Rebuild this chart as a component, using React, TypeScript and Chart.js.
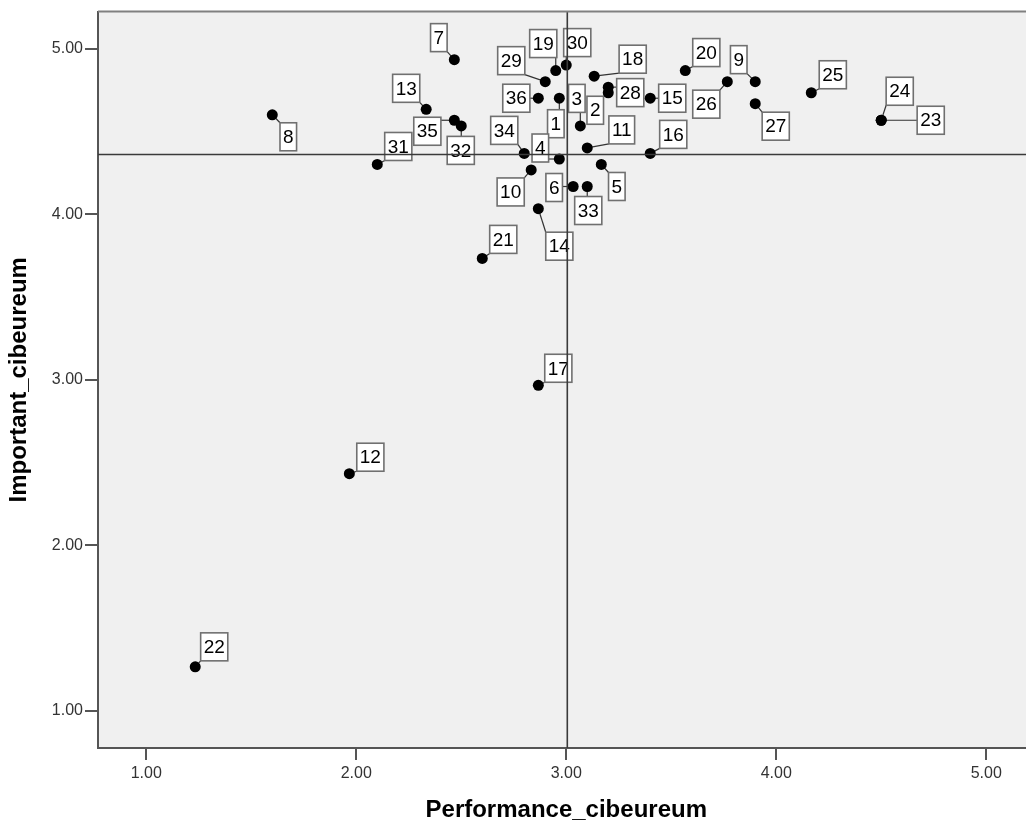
import React, { useEffect, useRef } from "react";
import { Chart, registerables } from "chart.js";

Chart.register(...registerables);

// Case numbers
const caseLabels: string[] = [
  "1", "2", "3", "4", "5", "6", "7", "8", "9", "10", "11", "12",
  "13", "14", "15", "16", "17", "18", "19", "20", "21", "22", "23", "24",
  "25", "26", "27", "28", "29", "30", "31", "32", "33", "34", "35", "36",
];

// Performance_cibeureum (x)
const performance: number[] = [
  2.967, 3.2, 3.067, 2.967, 3.167, 3.033, 2.467, 1.6, 3.9, 2.833, 3.1, 1.967,
  2.333, 2.867, 3.4, 3.4, 2.867, 3.133, 2.95, 3.567, 2.6, 1.233, 4.5, 4.5,
  4.167, 3.767, 3.9, 3.2, 2.9, 3.0, 2.1, 2.5, 3.1, 2.8, 2.467, 2.867,
];

// Important_cibeureum (y)
const importance: number[] = [
  4.7, 4.733, 4.533, 4.333, 4.3, 4.167, 4.933, 4.6, 4.8, 4.267, 4.4, 2.433,
  4.633, 4.033, 4.7, 4.367, 2.967, 4.833, 4.867, 4.867, 3.733, 1.267, 4.567, 4.567,
  4.733, 4.8, 4.667, 4.767, 4.8, 4.9, 4.3, 4.533, 4.167, 4.367, 4.567, 4.7,
];

// Reference lines (means)
const refPerformance = 3.005;
const refImportance = 4.36;

const xTickValues: number[] = [1, 2, 3, 4, 5];
const yTickValues: number[] = [1, 2, 3, 4, 5];

const xTitle = "Performance_cibeureum";
const yTitle = "Important_cibeureum";

// label box placement (pixel offset of box centre from its point)
const labelOffsets: [number, number][] = [
  [-3.5, 25.5], [-13, 17.5], [-3.5, -27.5], [-19, -11], [15.5, 22], [-19, 1],
  [-15.5, -22], [16, 22], [-16.5, -22], [-20.5, 22], [34.5, -18], [21, -16.5],
  [-20, -21], [21, 37.5], [22, 0], [23, -19], [20, -17], [38.5, -17],
  [-12.5, -27], [21, -18], [21, -19], [19, -20], [49.5, 0], [18.5, -29],
  [21.5, -18], [-21, 22.5], [20.5, 22.5], [22, 5.5], [-34, -21], [11, -22.5],
  [21, -18], [-0.5, 24.5], [1, 24], [-20, -23], [-27, 11], [-22, 0],
];

const FONT = '"Liberation Sans", Arial, sans-serif';

const spssPlugin = {
  id: "spssDecor",
  beforeDraw(chart: any) {
    const { ctx, chartArea: a } = chart;
    ctx.save();
    ctx.fillStyle = "#F0F0F0";
    ctx.fillRect(a.left, a.top, a.right - a.left, a.bottom - a.top);
    ctx.restore();
  },
  beforeDatasetsDraw(chart: any) {
    const { ctx } = chart;
    const xs = chart.scales.x;
    const ys = chart.scales.y;
    ctx.save();
    ctx.font = `19px ${FONT}`;
    const boxes = caseLabels.map((lab, i) => {
      const px = xs.getPixelForValue(performance[i]);
      const py = ys.getPixelForValue(importance[i]);
      const cx = px + labelOffsets[i][0];
      const cy = py + labelOffsets[i][1];
      const w = ctx.measureText(lab).width + 6;
      const h = 28;
      return { lab, px, py, l: cx - w / 2, t: cy - h / 2, w, h, cx, cy };
    });
    // leaders
    ctx.strokeStyle = "#333";
    ctx.lineWidth = 1.2;
    boxes.forEach((b) => {
      const nx = Math.max(b.l, Math.min(b.px, b.l + b.w));
      const ny = Math.max(b.t, Math.min(b.py, b.t + b.h));
      const d = Math.hypot(nx - b.px, ny - b.py);
      if (d > 6) {
        ctx.beginPath();
        ctx.moveTo(b.px, b.py);
        ctx.lineTo(nx, ny);
        ctx.stroke();
      }
    });
    // boxes
    boxes.forEach((b) => {
      ctx.fillStyle = "#FFFFFF";
      ctx.fillRect(b.l, b.t, b.w, b.h);
      ctx.strokeStyle = "#707070";
      ctx.lineWidth = 1.6;
      ctx.strokeRect(b.l, b.t, b.w, b.h);
      ctx.fillStyle = "#000";
      ctx.textAlign = "center";
      ctx.textBaseline = "middle";
      ctx.fillText(b.lab, b.cx, b.cy + 1);
    });
    ctx.restore();
  },
  afterDatasetsDraw(chart: any) {
    const { ctx, chartArea: a } = chart;
    const xs = chart.scales.x;
    const ys = chart.scales.y;
    ctx.save();
    ctx.strokeStyle = "#3a3a3a";
    ctx.lineWidth = 1.6;
    const vx = xs.getPixelForValue(refPerformance);
    const hy = ys.getPixelForValue(refImportance);
    ctx.beginPath();
    ctx.moveTo(vx, a.top);
    ctx.lineTo(vx, a.bottom);
    ctx.moveTo(a.left, hy);
    ctx.lineTo(a.right, hy);
    ctx.stroke();
    // top frame
    ctx.strokeStyle = "#808080";
    ctx.lineWidth = 2;
    ctx.beginPath();
    ctx.moveTo(a.left, a.top);
    ctx.lineTo(a.right, a.top);
    ctx.stroke();
    ctx.restore();
  },
};

export default function App() {
  const canvasRef = useRef<HTMLCanvasElement | null>(null);

  useEffect(() => {
    if (!canvasRef.current) return;
    const chart = new Chart(canvasRef.current, {
      type: "scatter",
      data: {
        datasets: [
          {
            label: "cases",
            data: performance.map((x, i) => ({ x, y: importance[i] })),
            backgroundColor: "#000000",
            borderWidth: 0,
            pointRadius: 5.5,
            pointHoverRadius: 5.5,
          },
        ],
      },
      options: {
        animation: false,
        responsive: false,
        devicePixelRatio: 1,
        layout: { padding: { top: 10, right: 3, left: 0, bottom: 0 } },
        plugins: {
          legend: { display: false },
          tooltip: { enabled: false },
        },
        scales: {
          x: {
            type: "linear",
            min: 0.77,
            max: 5.23,
            afterBuildTicks: (s: any) => {
              s.ticks = xTickValues.map((v) => ({ value: v }));
            },
            afterFit: (s: any) => {
              s.height = 80;
            },
            ticks: {
              callback: (v: any) => Number(v).toFixed(2),
              font: { family: FONT, size: 16 },
              color: "#333",
              padding: 4,
              maxRotation: 0,
            },
            grid: {
              drawOnChartArea: false,
              drawTicks: true,
              tickLength: 12,
              color: "#555",
              lineWidth: 2,
            },
            border: { display: true, color: "#555", width: 2 },
            title: {
              display: true,
              text: xTitle,
              font: { family: FONT, size: 24, weight: "bold" },
              color: "#000",
              padding: { top: 0, bottom: 3 },
            },
          },
          y: {
            type: "linear",
            min: 0.777,
            max: 5.223,
            afterBuildTicks: (s: any) => {
              s.ticks = yTickValues.map((v) => ({ value: v }));
            },
            afterFit: (s: any) => {
              s.width = 98;
            },
            ticks: {
              callback: (v: any) => Number(v).toFixed(2),
              font: { family: FONT, size: 16 },
              color: "#333",
              padding: 2,
            },
            grid: {
              drawOnChartArea: false,
              drawTicks: true,
              tickLength: 13,
              color: "#555",
              lineWidth: 2,
            },
            border: { display: true, color: "#555", width: 2 },
            title: {
              display: true,
              text: yTitle,
              font: { family: FONT, size: 24, weight: "bold" },
              color: "#000",
              padding: { top: 5, bottom: 0 },
            },
          },
        },
      },
      plugins: [spssPlugin],
    });
    return () => chart.destroy();
  }, []);

  return (
    <div
      style={{
        position: "fixed",
        left: 0,
        top: 0,
        width: 1026,
        height: 828,
        overflow: "hidden",
        background: "#fff",
      }}
    >
      <canvas ref={canvasRef} width={1040} height={828} style={{ display: "block" }} />
    </div>
  );
}
